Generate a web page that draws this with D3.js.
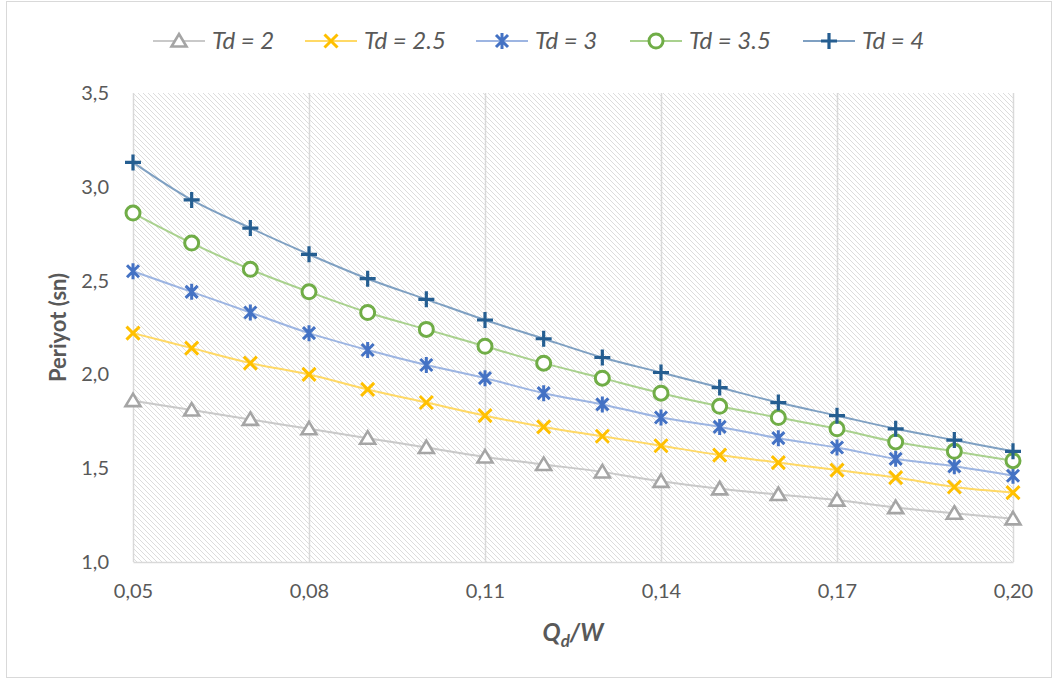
<!DOCTYPE html>
<html>
<head>
<meta charset="utf-8">
<script src="https://cdn.jsdelivr.net/npm/d3@7"></script>
<style>
  html, body { margin: 0; padding: 0; background: #fff; }
  svg { display: block; font-family: Lato, "Open Sans", sans-serif; }
</style>
</head>
<body>
<svg id="chart" width="1059" height="681"></svg>
<script>
// Qd/W ratio (x axis) and period values for each Td
const qdw = [0.05, 0.06, 0.07, 0.08, 0.09, 0.10, 0.11, 0.12, 0.13, 0.14, 0.15, 0.16, 0.17, 0.18, 0.19, 0.20];
const td2  = [1.86, 1.81, 1.76, 1.71, 1.66, 1.61, 1.56, 1.52, 1.48, 1.43, 1.39, 1.36, 1.33, 1.29, 1.26, 1.23];
const td25 = [2.22, 2.14, 2.06, 2.00, 1.92, 1.85, 1.78, 1.72, 1.67, 1.62, 1.57, 1.53, 1.49, 1.45, 1.40, 1.37];
const td3  = [2.55, 2.44, 2.33, 2.22, 2.13, 2.05, 1.98, 1.90, 1.84, 1.77, 1.72, 1.66, 1.61, 1.55, 1.51, 1.46];
const td35 = [2.86, 2.70, 2.56, 2.44, 2.33, 2.24, 2.15, 2.06, 1.98, 1.90, 1.83, 1.77, 1.71, 1.64, 1.59, 1.54];
const td4  = [3.13, 2.93, 2.78, 2.64, 2.51, 2.40, 2.29, 2.19, 2.09, 2.01, 1.93, 1.85, 1.78, 1.71, 1.65, 1.59];

const seriesNames = ["Td = 2", "Td = 2.5", "Td = 3", "Td = 3.5", "Td = 4"];
const xTickValues = [0.05, 0.08, 0.11, 0.14, 0.17, 0.20];
const yTickValues = [1.0, 1.5, 2.0, 2.5, 3.0, 3.5];

const series = [
  { name: seriesNames[0], values: td2,  marker: "triangle", color: "#A5A5A5", line: "#C9C9C9" },
  { name: seriesNames[1], values: td25, marker: "cross",    color: "#FFC000", line: "#FFD966" },
  { name: seriesNames[2], values: td3,  marker: "star",     color: "#4472C4", line: "#9DB5E2" },
  { name: seriesNames[3], values: td35, marker: "circle",   color: "#70AD47", line: "#A9D18E" },
  { name: seriesNames[4], values: td4,  marker: "plus",     color: "#255E91", line: "#7FA0C2" }
];

const svg = d3.select("#chart");
const plot = { left: 133, right: 1013, top: 93, bottom: 562 };

const x = d3.scaleLinear().domain([0.05, 0.20]).range([plot.left, plot.right]);
const y = d3.scaleLinear().domain([1.0, 3.5]).range([plot.bottom, plot.top]);
const comma = (f) => (v) => d3.format(f)(v).replace(".", ",");

// outer chart frame
svg.append("rect")
  .attr("x", 6.5).attr("y", 1.5).attr("width", 1045).attr("height", 676)
  .attr("fill", "#fff").attr("stroke", "#D9D9D9").attr("stroke-width", 1);

// diagonal hatch for the plot area
const defs = svg.append("defs");
const pat = defs.append("pattern")
  .attr("id", "hatch").attr("patternUnits", "userSpaceOnUse")
  .attr("width", 5).attr("height", 5);
pat.append("path")
  .attr("d", "M-1,-1 L6,6 M-1,4 L1,6 M4,-1 L6,1")
  .attr("stroke", "#D8D8D8").attr("stroke-width", 0.9);

svg.append("rect")
  .attr("x", plot.left).attr("y", plot.top)
  .attr("width", plot.right - plot.left).attr("height", plot.bottom - plot.top)
  .attr("fill", "url(#hatch)");

// vertical gridlines
svg.append("g")
  .selectAll("line").data(xTickValues).join("line")
  .attr("x1", d => Math.round(x(d)) + 0.5).attr("x2", d => Math.round(x(d)) + 0.5)
  .attr("y1", plot.top).attr("y2", plot.bottom)
  .attr("stroke", "#D9D9D9").attr("stroke-width", 1.5);

// x axis
const xAxis = svg.append("g")
  .attr("transform", `translate(0,${plot.bottom})`)
  .call(d3.axisBottom(x).tickValues(xTickValues).tickFormat(comma(".2f")).tickSize(0).tickPadding(22));
xAxis.select(".domain").attr("stroke", "#D9D9D9").attr("stroke-width", 1.5);
xAxis.selectAll("text").attr("fill", "#595959").attr("font-size", 20).attr("font-family", "Lato, sans-serif");

// y axis
const yAxis = svg.append("g")
  .attr("transform", `translate(${plot.left},0)`)
  .call(d3.axisLeft(y).tickValues(yTickValues).tickFormat(comma(".1f")).tickSize(0).tickPadding(24));
yAxis.select(".domain").remove();
yAxis.selectAll("text").attr("fill", "#595959").attr("font-size", 20).attr("font-family", "Lato, sans-serif");

// axis titles
svg.append("text")
  .attr("transform", `translate(57,${(plot.top + plot.bottom) / 2}) rotate(-90)`)
  .attr("text-anchor", "middle").attr("dominant-baseline", "central")
  .attr("font-size", 22).attr("font-weight", "bold").attr("fill", "#595959")
  .text("Periyot (sn)");

const xt = svg.append("text")
  .attr("x", (plot.left + plot.right) / 2).attr("y", 641)
  .attr("text-anchor", "middle")
  .attr("font-size", 24).attr("font-weight", "bold").attr("font-style", "italic").attr("fill", "#595959");
xt.append("tspan").text("Q");
xt.append("tspan").attr("font-size", 17).attr("dy", 6).text("d");
xt.append("tspan").attr("dy", -6).text("/W");

// marker drawing
function drawMarker(g, type, color) {
  if (type === "triangle") {
    g.append("path").attr("d", "M0,-7 L7.5,5.5 L-7.5,5.5 Z")
      .attr("fill", "#fff").attr("stroke", color).attr("stroke-width", 2.6).attr("stroke-linejoin", "miter");
  } else if (type === "cross") {
    g.append("path").attr("d", "M-6.5,-6.5 L6.5,6.5 M-6.5,6.5 L6.5,-6.5")
      .attr("stroke", color).attr("stroke-width", 3).attr("fill", "none");
  } else if (type === "star") {
    g.append("path").attr("d", "M-6,-6 L6,6 M-6,6 L6,-6 M0,-8 L0,8")
      .attr("stroke", color).attr("stroke-width", 3).attr("fill", "none");
  } else if (type === "circle") {
    g.append("circle").attr("r", 7)
      .attr("fill", "#fff").attr("stroke", color).attr("stroke-width", 3);
  } else if (type === "plus") {
    g.append("path").attr("d", "M-8,0 L8,0 M0,-8 L0,8")
      .attr("stroke", color).attr("stroke-width", 3.2).attr("fill", "none");
  }
}

const line = d3.line()
  .x((d, i) => x(qdw[i]))
  .y(d => y(d))
  .curve(d3.curveCatmullRom.alpha(0.5));

series.forEach(s => {
  const g = svg.append("g");
  g.append("path").attr("d", line(s.values))
    .attr("fill", "none").attr("stroke", s.line).attr("stroke-width", 2);
  g.selectAll("g.m").data(s.values).join("g").attr("class", "m")
    .attr("transform", (d, i) => `translate(${x(qdw[i])},${y(d)})`)
    .each(function () { drawMarker(d3.select(this), s.marker, s.color); });
});

// legend: entries laid out left to right along the top
const legendStarts = [153, 305, 476, 630, 803];
const legend = svg.append("g");
const ly = 41;
series.forEach((s, i) => {
  const item = legend.append("g").attr("transform", `translate(${legendStarts[i]},${ly})`);
  item.append("line").attr("x1", 0).attr("x2", 52).attr("y1", 0).attr("y2", 0)
    .attr("stroke", s.line).attr("stroke-width", 2);
  drawMarker(item.append("g").attr("transform", "translate(26,0)"), s.marker, s.color);
  item.append("text").attr("x", 59).attr("y", 0).attr("dy", "0.35em")
    .attr("font-size", 24).attr("font-style", "italic").attr("fill", "#595959")
    .text(s.name);
});
</script>
</body>
</html>
